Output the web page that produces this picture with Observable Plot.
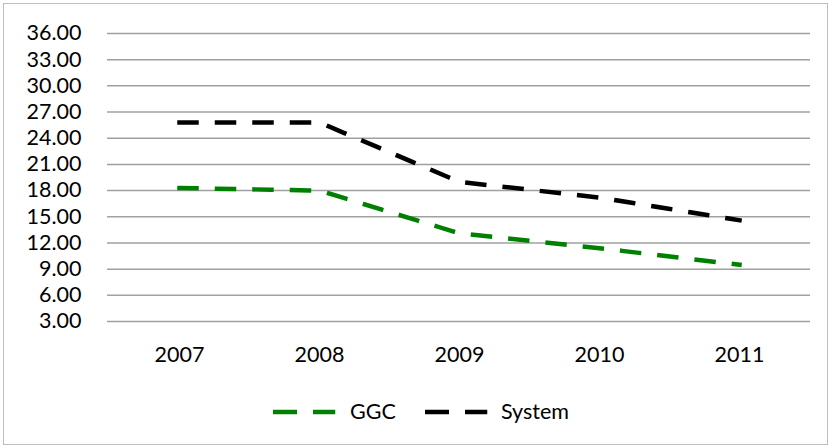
<!DOCTYPE html>
<html>
<head>
<meta charset="utf-8">
<script src="https://cdn.jsdelivr.net/npm/d3@7"></script>
<script src="https://cdn.jsdelivr.net/npm/@observablehq/plot@0.6"></script>
<style>
  html, body { margin: 0; padding: 0; background: #fff; }
  #wrap { position: relative; width: 832px; height: 448px; overflow: hidden; font-family: Lato, "Open Sans", sans-serif; }
  #border { position: absolute; left: 3px; top: 3px; width: 823px; height: 440px; border: 1.5px solid #bdbdbd; pointer-events: none; }
  #chart { position: absolute; left: 0; top: 0; }
  #legend { position: absolute; left: 0; top: 385px; width: 832px; height: 63px; }
  .lg-text { position: absolute; font-size: 21.5px; line-height: 22px; color: #000; white-space: nowrap; }
</style>
</head>
<body>
<div id="wrap">
  <div id="chart"></div>
  <div id="legend"></div>
  <div id="border"></div>
</div>
<script>
const years = ["2007", "2008", "2009", "2010", "2011"];
const ggc = [18.3, 18.0, 13.1, 11.4, 9.5];
const system = [25.8, 25.8, 19.0, 17.2, 14.6];
const yTicks = [3, 6, 9, 12, 15, 18, 21, 24, 27, 30, 33, 36];
const seriesNames = ["GGC", "System"];
const seriesColors = ["#008000", "#000000"];

const data = [
  ...years.map((year, i) => ({year, value: ggc[i], series: "GGC"})),
  ...years.map((year, i) => ({year, value: system[i], series: "System"}))
];

const plot = Plot.plot({
  width: 832,
  height: 385,
  marginTop: 33,
  marginBottom: 64,
  marginLeft: 107,
  marginRight: 22,
  style: {fontFamily: "Lato", fontSize: "21.5px", color: "#000", background: "transparent"},
  x: {type: "point", domain: years, padding: 0.5, label: null, tickSize: 0, tickPadding: 25},
  y: {domain: [3, 36], ticks: yTicks, tickFormat: d => d.toFixed(2), label: null, tickSize: 0, tickPadding: 26},
  color: {domain: seriesNames, range: seriesColors},
  marks: [
    Plot.gridY(yTicks, {stroke: "#a0a0a0", strokeOpacity: 1, strokeWidth: 1.5}),
    Plot.lineY(data, {
      x: "year", y: "value", z: "series", stroke: "series",
      strokeWidth: 4.5, strokeDasharray: "17,20.5", strokeLinecap: "square", strokeLinejoin: "round"
    })
  ]
});
document.getElementById("chart").appendChild(plot);

// Legend below the chart
const legend = d3.select("#legend");
const lgItems = [
  {name: seriesNames[0], color: seriesColors[0], sx: 273, tx: 350},
  {name: seriesNames[1], color: seriesColors[1], sx: 425, tx: 501}
];
const lsvg = legend.append("svg").attr("width", 832).attr("height", 63)
  .style("position", "absolute").style("left", 0).style("top", 0);
lgItems.forEach(it => {
  lsvg.append("line")
    .attr("x1", it.sx + 2.25).attr("x2", it.sx + 60)
    .attr("y1", 27).attr("y2", 27)
    .attr("stroke", it.color).attr("stroke-width", 4.5)
    .attr("stroke-dasharray", "19.5,20.5").attr("stroke-linecap", "square");
  legend.append("div").attr("class", "lg-text")
    .style("left", it.tx + "px").style("top", "15px")
    .text(it.name);
});
</script>
</body>
</html>
